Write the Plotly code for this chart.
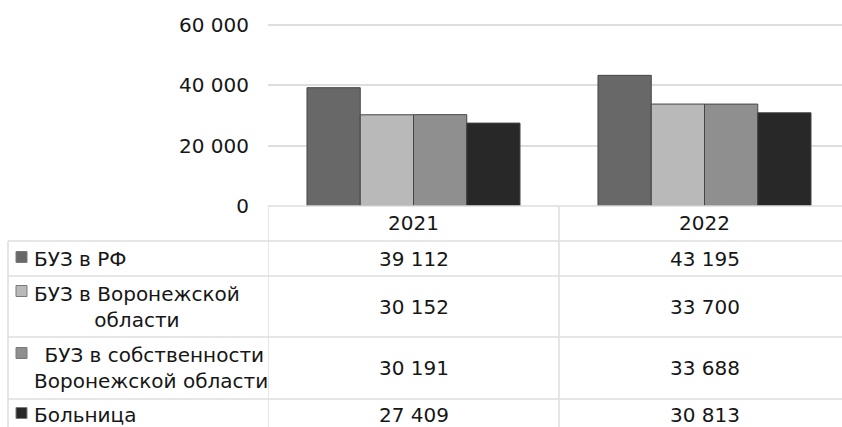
import plotly.graph_objects as go

# Data
years = ["2021", "2022"]
series_names = [
    "БУЗ в РФ",
    "БУЗ в Воронежской<br>области",
    " БУЗ в собственности<br>Воронежской области",
    "Больница",
]
values = [
    [39112, 43195],
    [30152, 33700],
    [30191, 33688],
    [27409, 30813],
]
colors = ["#686868", "#b9b9b9", "#8f8f8f", "#282828"]
y_ticks = [0, 20000, 40000, 60000]

W, H = 842, 427
FONT = "DejaVu Sans, Verdana, sans-serif"
TEXT = "#161616"
LINE = "#dedede"


def fx(px):
    return px / W


def fy(py):
    return 1 - py / H


def fmt(v):
    return f"{v:,}".replace(",", " ")


# layout geometry (pixels)
PLOT_L, PLOT_T, PLOT_B = 268, 24.5, 206   # PLOT_T: pixel row of the top tick
Y_MAX = 60000
Y_PAD = 400                                # headroom so the top gridline is drawn
ppu = (PLOT_B - PLOT_T) / Y_MAX
CAT_W = 291
TABLE_L = 8
HEADER_Y = 223
ROW_EDGES = [241, 276, 337, 399, 440]
MARK_Y = [257, 291, 353, 413]

fig = go.Figure()
for name, vals, col in zip(series_names, values, colors):
    fig.add_trace(go.Bar(
        x=list(range(len(years))), y=vals, name=name.replace("<br>", " "),
        marker=dict(color=col, line=dict(color="#454545", width=1)),
        showlegend=False,
    ))

shapes = []
annotations = []

# table grid
shapes.append(dict(type="line", xref="paper", yref="paper",
                   x0=fx(PLOT_L), x1=1, y0=fy(PLOT_B), y1=fy(PLOT_B),
                   line=dict(color=LINE, width=1.5)))
for yy in ROW_EDGES[:-1]:
    shapes.append(dict(type="line", xref="paper", yref="paper",
                       x0=fx(TABLE_L), x1=1, y0=fy(yy), y1=fy(yy),
                       line=dict(color=LINE, width=1.5)))
shapes.append(dict(type="line", xref="paper", yref="paper",
                   x0=fx(TABLE_L), x1=fx(TABLE_L), y0=fy(ROW_EDGES[0]), y1=0,
                   line=dict(color=LINE, width=1.5)))
for xv in [-0.5, 0.5]:
    shapes.append(dict(type="line", xref="x", yref="paper",
                       x0=xv, x1=xv, y0=fy(PLOT_B), y1=0,
                       line=dict(color=LINE, width=1.5)))

# header years
for i, yr in enumerate(years):
    annotations.append(dict(x=i, y=fy(HEADER_Y), xref="x", yref="paper",
                            text=yr, showarrow=False,
                            font=dict(family=FONT, size=20, color=TEXT)))

# rows: legend key, series label, values
for r, (name, vals, col) in enumerate(zip(series_names, values, colors)):
    top, bot = ROW_EDGES[r], ROW_EDGES[r + 1]
    cy = (top + bot) / 2 if r < len(series_names) - 1 else 415
    shapes.append(dict(type="rect", xref="paper", yref="paper",
                       x0=fx(16), x1=fx(27), y0=fy(MARK_Y[r] - 5.5), y1=fy(MARK_Y[r] + 5.5),
                       fillcolor=col, line=dict(color="#7a7a7a", width=1)))
    annotations.append(dict(x=fx(32), y=fy(cy), xref="paper", yref="paper",
                            xanchor="left", yanchor="middle", align="center",
                            text=name, showarrow=False,
                            font=dict(family=FONT, size=20, color=TEXT)))
    for i, v in enumerate(vals):
        annotations.append(dict(x=i, y=fy(cy), xref="x", yref="paper",
                                yanchor="middle",
                                text=fmt(v), showarrow=False,
                                font=dict(family=FONT, size=20, color=TEXT)))

fig.update_layout(
    width=W, height=H,
    margin=dict(l=0, r=0, t=0, b=0, pad=0, autoexpand=False),
    paper_bgcolor="white", plot_bgcolor="white",
    barmode="group", bargap=0.268, bargroupgap=0,
    shapes=shapes, annotations=annotations,
    xaxis=dict(domain=[fx(PLOT_L), 1],
               range=[-0.5, -0.5 + (W - PLOT_L) / CAT_W],
               showticklabels=False, showgrid=False, zeroline=False, showline=False,
               automargin=False),
    yaxis=dict(domain=[fy(PLOT_B), fy(PLOT_T - Y_PAD * ppu)], range=[0, Y_MAX + Y_PAD],
               tickvals=y_ticks, ticktext=[fmt(v) for v in y_ticks],
               tickfont=dict(family=FONT, size=20, color=TEXT),
               showgrid=True, gridcolor=LINE, gridwidth=1.5,
               zeroline=False, showline=False, ticks="",
               ticklabelstandoff=18, automargin=False),
)

fig.write_html("out.html")
